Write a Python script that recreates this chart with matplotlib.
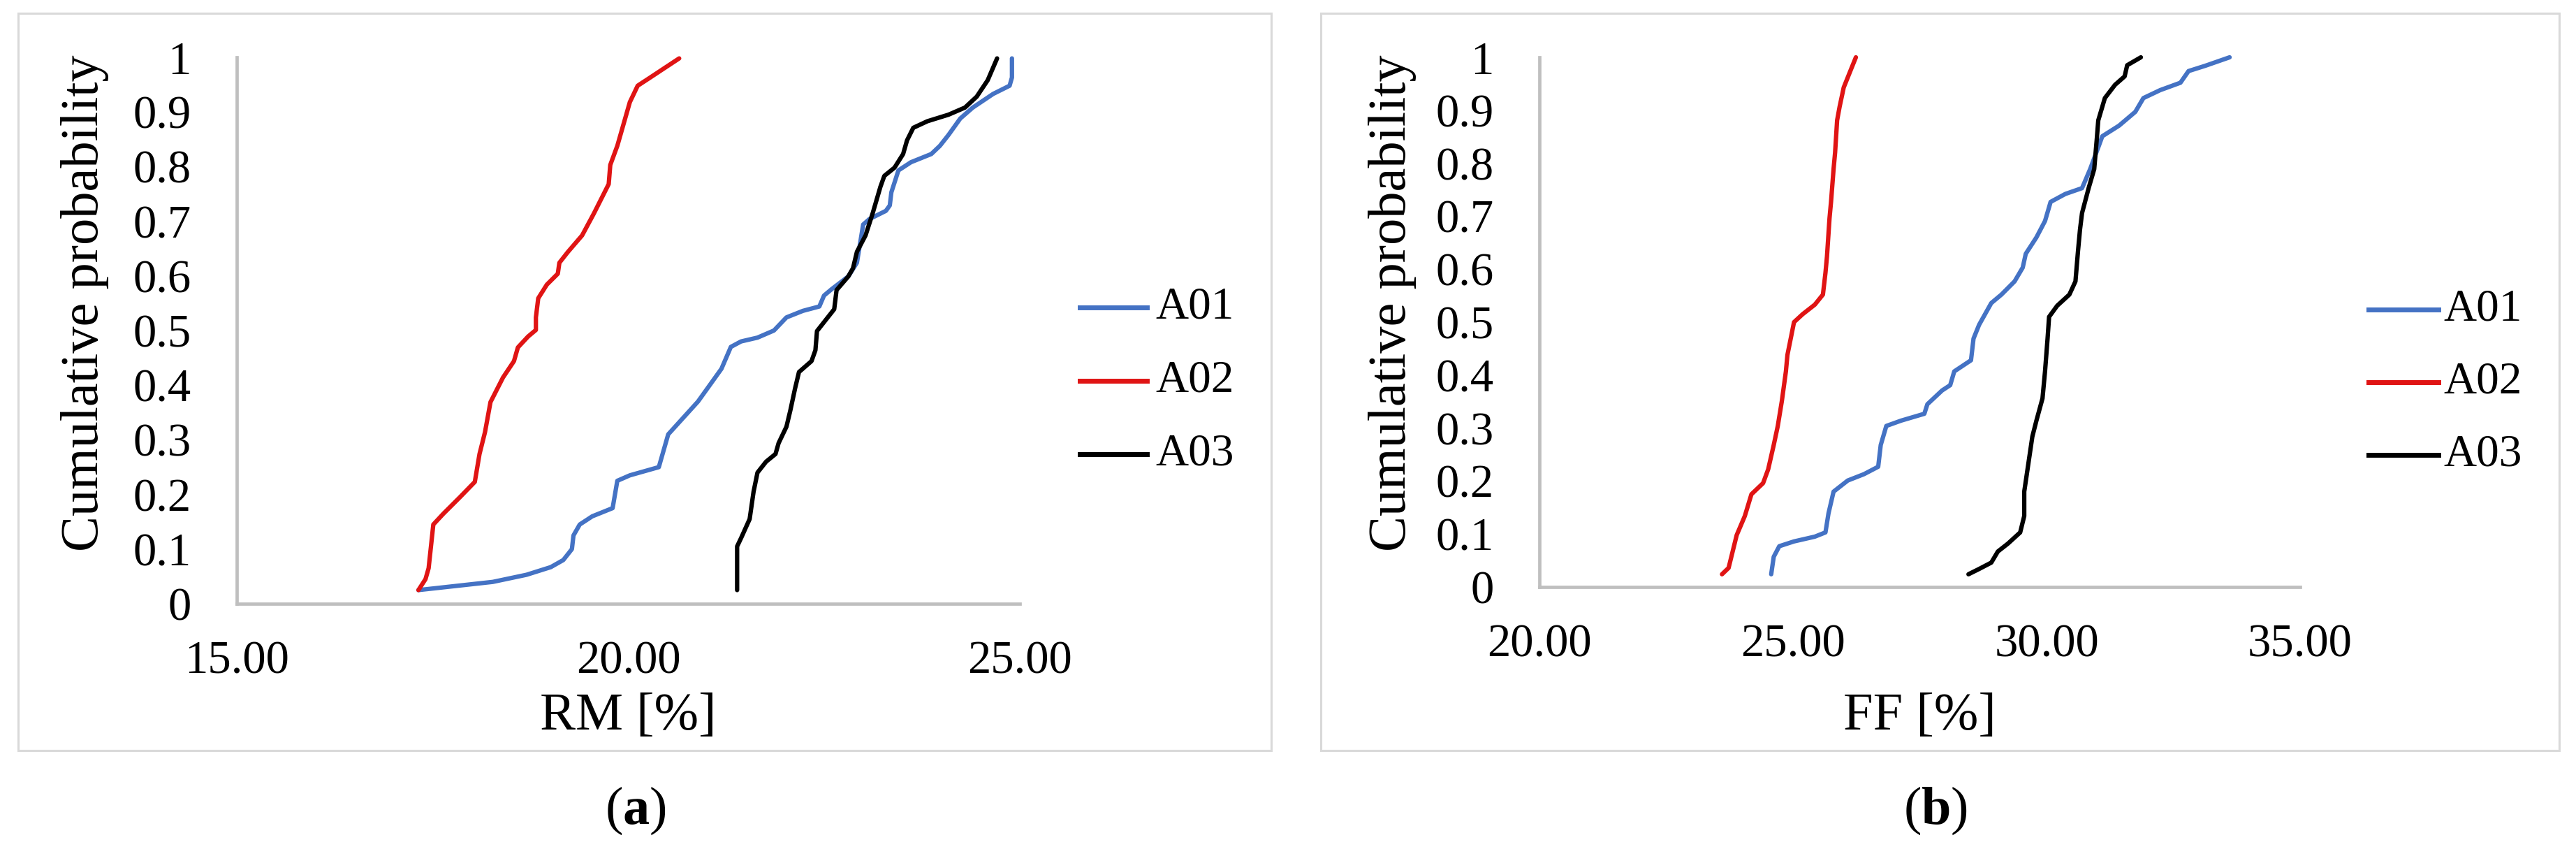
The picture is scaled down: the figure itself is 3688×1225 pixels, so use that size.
import matplotlib
matplotlib.use("Agg")
import matplotlib.pyplot as plt
from matplotlib.patches import Rectangle

plt.rcParams['font.family'] = ['Liberation Serif', 'DejaVu Serif']
plt.rcParams['mathtext.fontset'] = 'custom'
plt.rcParams['mathtext.rm'] = 'Liberation Serif'
plt.rcParams['mathtext.bf'] = 'Liberation Serif:bold'

# ---------------- data ----------------
series_names = ["A01", "A02", "A03"]
series_colors = ["#4472C4", "#E01414", "#000000"]

# Panel (a): RM [%]
rm_a01_x = [17.32, 18.27, 18.70, 19.01, 19.17, 19.28, 19.30, 19.38, 19.54, 19.80, 19.86, 20.02, 20.39,
            20.47, 20.51, 20.70, 20.89, 21.04, 21.19, 21.31, 21.44, 21.65, 21.86, 22.02, 22.23, 22.44,
            22.50, 22.60, 22.81, 22.92, 23.00, 23.08, 23.29, 23.34, 23.36, 23.45, 23.61, 23.87, 23.98,
            24.09, 24.24, 24.40, 24.66, 24.87, 24.90, 24.90]
rm_a01_y = [0.025, 0.040, 0.053, 0.067, 0.080, 0.100, 0.125, 0.145, 0.160, 0.175, 0.225, 0.235, 0.250,
            0.290, 0.310, 0.340, 0.370, 0.400, 0.430, 0.470, 0.480, 0.487, 0.500, 0.524, 0.536, 0.544,
            0.564, 0.576, 0.599, 0.624, 0.694, 0.704, 0.719, 0.729, 0.753, 0.793, 0.808, 0.823, 0.838,
            0.858, 0.888, 0.908, 0.933, 0.948, 0.963, 0.998]

rm_a02_x = [17.32, 17.41, 17.45, 17.51, 17.64, 17.85, 18.04, 18.10, 18.17, 18.24, 18.40, 18.54, 18.59,
            18.72, 18.82, 18.82, 18.85, 18.96, 19.10, 19.12, 19.23, 19.41, 19.56, 19.75, 19.77, 19.86,
            19.91, 20.02, 20.12, 20.28, 20.47, 20.65]
rm_a02_y = [0.025, 0.045, 0.065, 0.145, 0.165, 0.195, 0.223, 0.274, 0.314, 0.369, 0.414, 0.444, 0.469,
            0.489, 0.501, 0.524, 0.559, 0.584, 0.604, 0.624, 0.644, 0.674, 0.714, 0.768, 0.803, 0.838,
            0.863, 0.918, 0.948, 0.963, 0.981, 0.998]

rm_a03_x = [21.39, 21.39, 21.44, 21.55, 21.60, 21.65, 21.76, 21.88, 21.92, 22.02, 22.07, 22.13, 22.18,
            22.34, 22.39, 22.41, 22.52, 22.63, 22.66, 22.81, 22.87, 22.92, 23.03, 23.12, 23.22, 23.27,
            23.40, 23.51, 23.56, 23.64, 23.82, 24.09, 24.30, 24.45, 24.59, 24.71]
rm_a03_y = [0.025, 0.105, 0.120, 0.155, 0.205, 0.240, 0.260, 0.274, 0.294, 0.324, 0.354, 0.394, 0.424,
            0.444, 0.464, 0.499, 0.519, 0.539, 0.574, 0.599, 0.614, 0.644, 0.674, 0.714, 0.763, 0.783,
            0.798, 0.823, 0.848, 0.871, 0.883, 0.895, 0.908, 0.928, 0.958, 0.998]

# Panel (b): FF [%]
ff_a01_x = [24.57, 24.62, 24.73, 25.02, 25.43, 25.64, 25.70, 25.80, 26.08, 26.40, 26.68, 26.73, 26.84,
            27.13, 27.59, 27.65, 27.94, 28.10, 28.18, 28.51, 28.56, 28.67, 28.91, 29.11, 29.37, 29.53,
            29.59, 29.80, 29.97, 30.08, 30.37, 30.70, 30.86, 31.02, 31.10, 31.43, 31.75, 31.91, 32.24,
            32.64, 32.80, 33.13, 33.61]
ff_a01_y = [0.024, 0.057, 0.077, 0.086, 0.095, 0.103, 0.139, 0.180, 0.201, 0.213, 0.227, 0.268, 0.304,
            0.314, 0.327, 0.345, 0.371, 0.381, 0.407, 0.428, 0.469, 0.495, 0.536, 0.552, 0.577, 0.603,
            0.629, 0.660, 0.691, 0.727, 0.742, 0.753, 0.789, 0.830, 0.851, 0.871, 0.897, 0.923, 0.938,
            0.952, 0.974, 0.984, 1.000]

ff_a02_x = [23.60, 23.73, 23.81, 23.89, 24.05, 24.18, 24.41, 24.51, 24.62, 24.70, 24.78, 24.86, 24.89,
            25.02, 25.19, 25.43, 25.59, 25.64, 25.67, 25.72, 25.75, 25.80, 25.83, 25.87, 25.92, 26.00,
            26.13, 26.24]
ff_a02_y = [0.024, 0.036, 0.067, 0.098, 0.134, 0.175, 0.196, 0.222, 0.268, 0.304, 0.351, 0.407, 0.438,
            0.500, 0.515, 0.533, 0.552, 0.593, 0.624, 0.696, 0.727, 0.789, 0.820, 0.881, 0.907, 0.943,
            0.974, 1.000]

ff_a03_x = [28.46, 28.67, 28.91, 29.04, 29.24, 29.48, 29.56, 29.56, 29.64, 29.72, 29.80, 29.92, 29.97,
            30.02, 30.05, 30.21, 30.45, 30.57, 30.62, 30.66, 30.70, 30.83, 30.94, 30.99, 31.02, 31.15,
            31.35, 31.54, 31.59, 31.86]
ff_a03_y = [0.024, 0.034, 0.046, 0.067, 0.082, 0.103, 0.134, 0.180, 0.232, 0.284, 0.314, 0.356, 0.407,
            0.469, 0.510, 0.531, 0.552, 0.577, 0.634, 0.675, 0.706, 0.753, 0.789, 0.845, 0.881, 0.923,
            0.948, 0.964, 0.985, 1.000]

y_ticks = [0, 0.1, 0.2, 0.3, 0.4, 0.5, 0.6, 0.7, 0.8, 0.9, 1]
y_tick_labels = ["0", "0.1", "0.2", "0.3", "0.4", "0.5", "0.6", "0.7", "0.8", "0.9", "1"]
rm_ticks = [15, 20, 25]
ff_ticks = [20, 25, 30, 35]
panel_tags = ["a", "b"]

# ---------------- figure ----------------
W, H = 3688, 1225
DPI = 100
fig = plt.figure(figsize=(W / DPI, H / DPI), dpi=DPI)
fig.patch.set_facecolor("white")


def fx(px):
    return px / W


def fy(py):
    return 1 - py / H


# panel frames
for (x0, x1) in [(26, 1820), (1891, 3664)]:
    fig.patches.append(Rectangle((fx(x0), fy(1074)), fx(x1) - fx(x0), fy(19) - fy(1074),
                                 transform=fig.transFigure, fill=False,
                                 edgecolor="#d9d9d9", linewidth=2.2, zorder=0))

panels = [
    dict(px=(339, 1460), py=(82, 864), xlim=(15, 25), xticks=rm_ticks, xlabel="RM [%]",
         data=[(rm_a01_x, rm_a01_y), (rm_a02_x, rm_a02_y), (rm_a03_x, rm_a03_y)],
         ylab_x=122, leg=(1546, 1642, 1654), leg_rows=(440, 545, 650), tag=panel_tags[0], tag_x=910),
    dict(px=(2204, 3293), py=(82, 840), xlim=(20, 35), xticks=ff_ticks, xlabel="FF [%]",
         data=[(ff_a01_x, ff_a01_y), (ff_a02_x, ff_a02_y), (ff_a03_x, ff_a03_y)],
         ylab_x=1993, leg=(3391, 3491, 3498), leg_rows=(443, 547, 651), tag=panel_tags[1], tag_x=2771),
]

TICK_FS = 48
LABEL_FS = 55
LEG_FS = 47
axis_col = "#bfbfbf"

for p in panels:
    x0, x1 = p["px"]
    ytop, ybot = p["py"]
    ax = fig.add_axes([fx(x0), fy(ybot), fx(x1) - fx(x0), fy(ytop) - fy(ybot)])
    ax.set_facecolor("none")
    lines = []
    for (xs, ys), c, n in zip(p["data"], series_colors, series_names):
        ln, = ax.plot(xs, ys, color=c, linewidth=4.5, solid_joinstyle="round",
                      solid_capstyle="round", label=n, clip_on=False)
        lines.append(ln)
    ax.set_xlim(*p["xlim"])
    ax.set_ylim(0, 1)
    ax.set_xticks(p["xticks"])
    ax.set_xticklabels([f"{v:.2f}" for v in p["xticks"]])
    ax.set_yticks(y_ticks)
    ax.set_yticklabels(y_tick_labels)
    ax.tick_params(axis="both", length=0, labelsize=TICK_FS)
    ax.tick_params(axis="y", pad=47)
    ax.tick_params(axis="x", pad=38)
    for s in ["top", "right"]:
        ax.spines[s].set_visible(False)
    for s in ["left", "bottom"]:
        ax.spines[s].set_color(axis_col)
        ax.spines[s].set_linewidth(3.4)
    ax.set_xlabel(p["xlabel"], fontsize=LABEL_FS, va="center")
    ax.xaxis.set_label_coords((x0 + x1) / 2 / W, fy(1025), transform=fig.transFigure)
    ax.set_ylabel("Cumulative probability", fontsize=LABEL_FS, va="center")
    ax.yaxis.set_label_coords(fx(p["ylab_x"]), fy(434), transform=fig.transFigure)

    # legend (Excel-style, to the right of the plot)
    lx0, lx1, tx = p["leg"]
    for ln, row in zip(lines, p["leg_rows"]):
        fig.add_artist(plt.Line2D([fx(lx0), fx(lx1)], [fy(row), fy(row)],
                                  transform=fig.transFigure, color=ln.get_color(),
                                  linewidth=5))
        fig.text(fx(tx), fy(row), ln.get_label(), fontsize=LEG_FS, ha="left", va="center")

    fig.text(fx(p["tag_x"]), fy(1160), "(" + r"$\mathbf{" + p["tag"] + "}$" + ")",
             fontsize=LABEL_FS, ha="center", va="center")

fig.savefig("out.png", dpi=DPI, facecolor="white")
